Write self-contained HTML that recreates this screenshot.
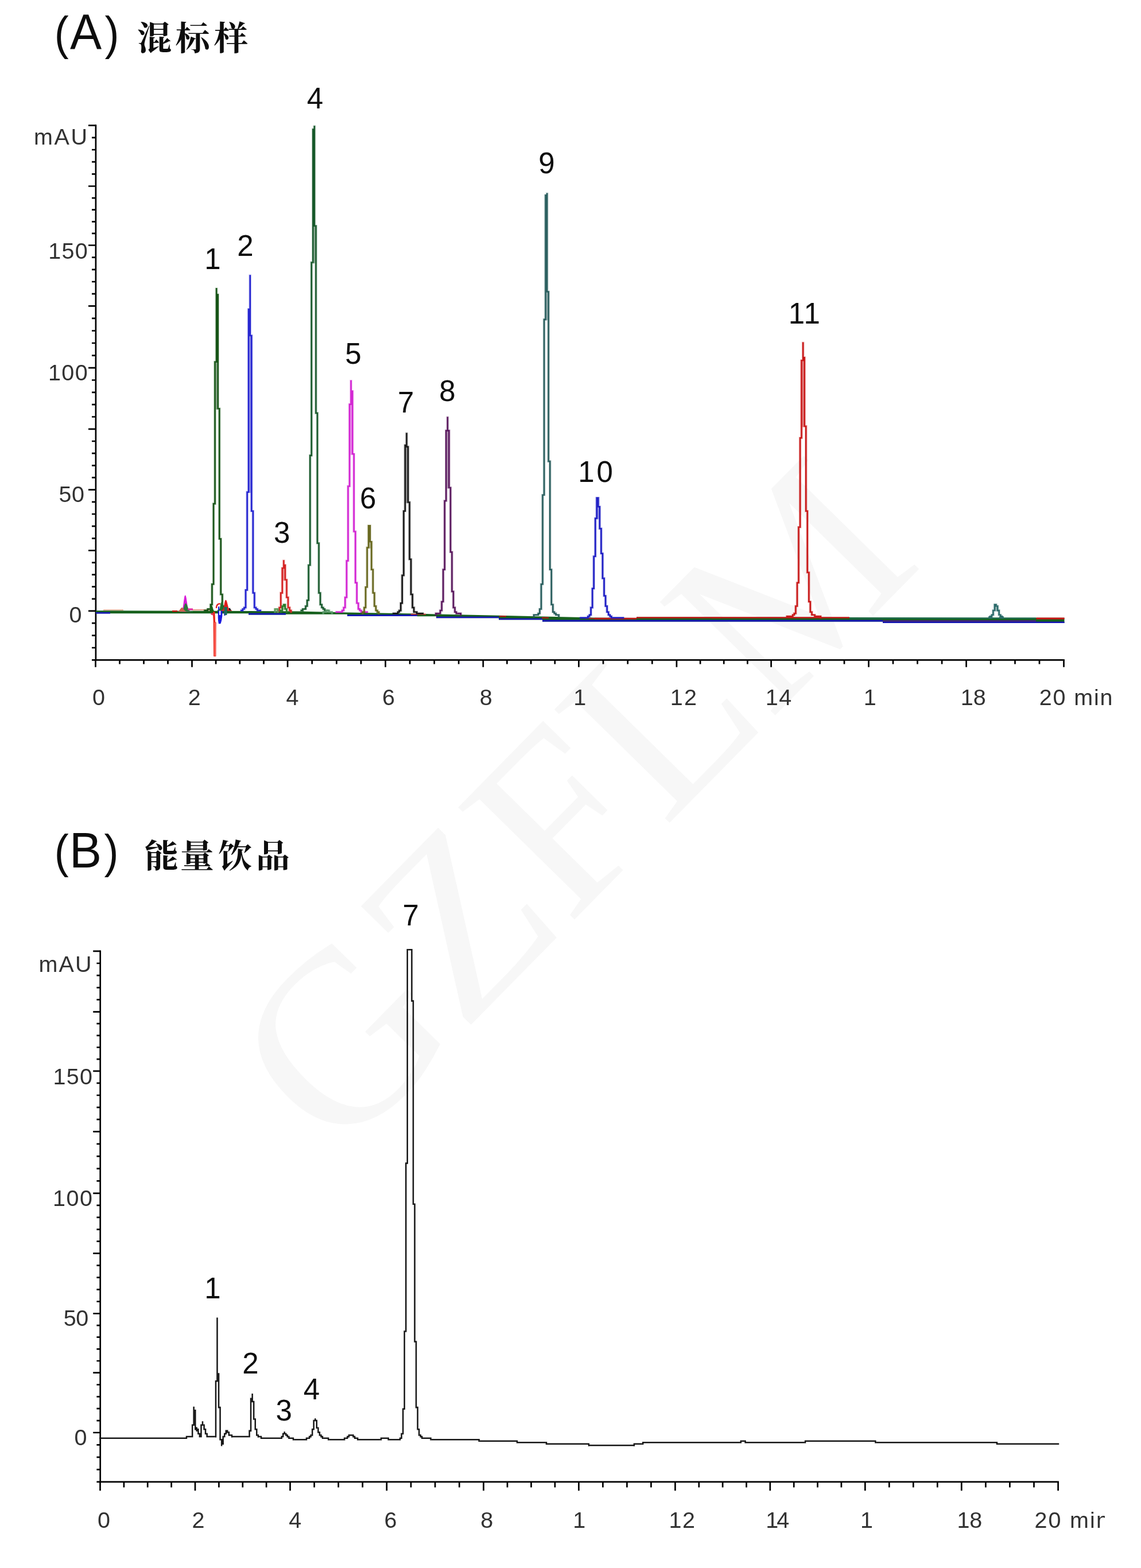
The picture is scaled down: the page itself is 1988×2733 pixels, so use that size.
<!DOCTYPE html>
<html><head><meta charset="utf-8"><title>Chromatograms</title>
<style>
html,body{margin:0;padding:0;background:#fff;}
body{width:1988px;height:2733px;overflow:hidden;font-family:"Liberation Sans",sans-serif;}
svg{display:block;font-family:"Liberation Sans",sans-serif;}
</style></head><body>
<svg width="1988" height="2733" viewBox="0 0 1988 2733">
<defs>
<filter id="bl" x="0" y="0" width="1988" height="2733" filterUnits="userSpaceOnUse"><feGaussianBlur stdDeviation="0.65"/></filter>
<filter id="bt" x="0" y="0" width="1988" height="2733" filterUnits="userSpaceOnUse"><feGaussianBlur stdDeviation="0.6"/></filter>
</defs>
<rect width="1988" height="2733" fill="#fff"/>
<g filter="url(#bl)">
<text transform="translate(998 1403) rotate(-45.5)" text-anchor="middle" font-family="'Liberation Serif', serif" font-size="430" fill="#f7f7f7" dy="142">GZFLM</text>
<g fill="#0c0c0c">
<text transform="translate(94.85 86) scale(.915 1)" font-size="82">(</text><text transform="translate(182.4 86) scale(.915 1)" font-size="82">)</text>
<text transform="translate(122.1 86) scale(1.008 1.055)" font-size="82">A</text>
<text transform="translate(94.85 1512) scale(.915 1)" font-size="82">(</text><text transform="translate(181.5 1512) scale(.915 1)" font-size="82">)</text>
<text transform="translate(121.1 1512) scale(1.024 1.053)" font-size="82">B</text>
<text transform="translate(238.80 87.00) scale(1 .959)" font-size="60.5" font-weight="bold" font-family="'Liberation Serif','Noto Serif CJK SC',serif">混</text>
<text transform="translate(305.56 87.00) scale(1 .959)" font-size="60.5" font-weight="bold" font-family="'Liberation Serif','Noto Serif CJK SC',serif">标</text>
<text transform="translate(372.27 87.00) scale(1 .959)" font-size="60.5" font-weight="bold" font-family="'Liberation Serif','Noto Serif CJK SC',serif">样</text>
<text transform="translate(251.68 1512.40) scale(1 .966)" font-size="59" font-weight="bold" font-family="'Liberation Serif','Noto Serif CJK SC',serif">能</text>
<text transform="translate(313.73 1512.40) scale(1 .966)" font-size="59" font-weight="bold" font-family="'Liberation Serif','Noto Serif CJK SC',serif">量</text>
<text transform="translate(380.18 1512.40) scale(1 .966)" font-size="59" font-weight="bold" font-family="'Liberation Serif','Noto Serif CJK SC',serif">饮</text>
<text transform="translate(446.12 1512.40) scale(1 .966)" font-size="59" font-weight="bold" font-family="'Liberation Serif','Noto Serif CJK SC',serif">品</text>
</g>
<g stroke="#000" stroke-width="2.7" fill="none">
<path d="M166.9 217.3V1151.6"/>
<path d="M154.0 218.7H166.9M160.0 239.9H166.9M160.0 261.0H166.9M160.0 282.2H166.9M160.0 303.3H166.9M154.0 324.5H166.9M160.0 345.1H166.9M160.0 365.7H166.9M160.0 386.3H166.9M160.0 406.9H166.9M154.0 427.5H166.9M160.0 448.7H166.9M160.0 469.8H166.9M160.0 491.0H166.9M160.0 512.1H166.9M154.0 533.3H166.9M160.0 554.9H166.9M160.0 576.5H166.9M160.0 598.0H166.9M160.0 619.6H166.9M154.0 641.2H166.9M160.0 662.5H166.9M160.0 683.8H166.9M160.0 705.2H166.9M160.0 726.5H166.9M154.0 747.8H166.9M160.0 769.0H166.9M160.0 790.1H166.9M160.0 811.3H166.9M160.0 832.4H166.9M154.0 853.6H166.9M160.0 874.8H166.9M160.0 896.0H166.9M160.0 917.1H166.9M160.0 938.3H166.9M154.0 959.5H166.9M160.0 980.6H166.9M160.0 1001.7H166.9M160.0 1022.7H166.9M160.0 1043.8H166.9M154.0 1064.9H166.9M160.0 1086.2H166.9M160.0 1107.6H166.9M160.0 1129.0H166.9"/>
<path d="M160.0 1150.3H1854.8"/>
<path d="M166.5 1150.3V1162.8M208.5 1150.3V1157.6M250.5 1150.3V1157.6M292.5 1150.3V1157.6M334.5 1150.3V1162.8M376.1 1150.3V1157.6M417.8 1150.3V1157.6M459.5 1150.3V1157.6M501.1 1150.3V1162.8M543.7 1150.3V1157.6M586.4 1150.3V1157.6M629.0 1150.3V1157.6M671.6 1150.3V1162.8M714.1 1150.3V1157.6M756.7 1150.3V1157.6M799.2 1150.3V1157.6M841.8 1150.3V1162.8M883.4 1150.3V1157.6M925.1 1150.3V1157.6M966.8 1150.3V1157.6M1008.4 1150.3V1162.8M1051.0 1150.3V1157.6M1093.7 1150.3V1157.6M1136.3 1150.3V1157.6M1178.9 1150.3V1162.8M1220.1 1150.3V1157.6M1261.2 1150.3V1157.6M1302.4 1150.3V1157.6M1343.6 1150.3V1162.8M1386.1 1150.3V1157.6M1428.5 1150.3V1157.6M1471.0 1150.3V1157.6M1513.5 1150.3V1162.8M1556.0 1150.3V1157.6M1598.5 1150.3V1157.6M1641.1 1150.3V1157.6M1683.6 1150.3V1162.8M1726.1 1150.3V1157.6M1768.5 1150.3V1157.6M1811.0 1150.3V1157.6M1853.5 1150.3V1162.8"/>
</g>
<g stroke="#000" stroke-width="2.7" fill="none">
<path d="M174.7 1656.5V2584.2"/>
<path d="M162.2 1657.8H174.7M168.4 1679.0H174.7M168.4 1700.1H174.7M168.4 1721.3H174.7M168.4 1742.4H174.7M162.2 1763.6H174.7M168.4 1784.2H174.7M168.4 1804.9H174.7M168.4 1825.5H174.7M168.4 1846.2H174.7M162.2 1866.8H174.7M168.4 1887.9H174.7M168.4 1909.0H174.7M168.4 1930.1H174.7M168.4 1951.2H174.7M162.2 1972.3H174.7M168.4 1993.8H174.7M168.4 2015.3H174.7M168.4 2036.9H174.7M168.4 2058.4H174.7M162.2 2079.9H174.7M168.4 2100.9H174.7M168.4 2121.8H174.7M168.4 2142.8H174.7M168.4 2163.7H174.7M162.2 2184.7H174.7M168.4 2205.7H174.7M168.4 2226.6H174.7M168.4 2247.6H174.7M168.4 2268.5H174.7M162.2 2289.5H174.7M168.4 2310.1H174.7M168.4 2330.7H174.7M168.4 2351.4H174.7M168.4 2372.0H174.7M162.2 2392.6H174.7M168.4 2413.5H174.7M168.4 2434.4H174.7M168.4 2455.2H174.7M168.4 2476.1H174.7M162.2 2497.0H174.7M168.4 2518.4H174.7M168.4 2539.9H174.7M168.4 2561.4H174.7"/>
<path d="M168.4 2582.8H1844.9"/>
<path d="M174.5 2582.8V2598.2M215.9 2582.8V2592.5M257.2 2582.8V2592.5M298.6 2582.8V2592.5M340.0 2582.8V2598.2M381.4 2582.8V2592.5M422.8 2582.8V2592.5M464.1 2582.8V2592.5M505.5 2582.8V2598.2M547.6 2582.8V2592.5M589.6 2582.8V2592.5M631.7 2582.8V2592.5M673.8 2582.8V2598.2M716.0 2582.8V2592.5M758.1 2582.8V2592.5M800.3 2582.8V2592.5M842.5 2582.8V2598.2M884.0 2582.8V2592.5M925.5 2582.8V2592.5M966.9 2582.8V2592.5M1008.4 2582.8V2598.2M1050.4 2582.8V2592.5M1092.4 2582.8V2592.5M1134.4 2582.8V2592.5M1176.4 2582.8V2598.2M1217.8 2582.8V2592.5M1259.1 2582.8V2592.5M1300.5 2582.8V2592.5M1341.8 2582.8V2598.2M1383.2 2582.8V2592.5M1424.5 2582.8V2592.5M1465.9 2582.8V2592.5M1507.3 2582.8V2598.2M1549.3 2582.8V2592.5M1591.3 2582.8V2592.5M1633.3 2582.8V2592.5M1675.3 2582.8V2598.2M1717.4 2582.8V2592.5M1759.4 2582.8V2592.5M1801.5 2582.8V2592.5M1843.6 2582.8V2598.2"/>
</g>
<g fill="#303030"><text x="58.88" y="251.80" font-size="39.5">m</text><text x="94.48" y="251.80" font-size="39.5">A</text><text x="123.52" y="251.80" font-size="39.5">U</text></g>
<g fill="#303030"><text x="84.29" y="451.00" font-size="39.5">1</text><text x="107.58" y="451.00" font-size="39.5">5</text><text x="130.87" y="451.00" font-size="39.5">0</text></g>
<g fill="#303030"><text x="83.89" y="663.20" font-size="39.5">1</text><text x="107.33" y="663.20" font-size="39.5">0</text><text x="130.77" y="663.20" font-size="39.5">0</text></g>
<g fill="#303030"><text x="102.62" y="875.20" font-size="39.5">5</text><text x="125.07" y="875.20" font-size="39.5">0</text></g>
<g fill="#303030"><text x="120.46" y="1085.20" font-size="39.5">0</text></g>
<g fill="#303030"><text x="160.96" y="1229.00" font-size="39.5">0</text></g>
<g fill="#303030"><text x="327.81" y="1229.00" font-size="39.5">2</text></g>
<g fill="#303030"><text x="498.40" y="1229.00" font-size="39.5">4</text></g>
<g fill="#303030"><text x="665.99" y="1229.00" font-size="39.5">6</text></g>
<g fill="#303030"><text x="835.78" y="1229.00" font-size="39.5">8</text></g>
<g fill="#303030"><text x="999.29" y="1229.00" font-size="39.5">1</text></g>
<g fill="#303030"><text x="1167.69" y="1229.00" font-size="39.5">1</text><text x="1192.02" y="1229.00" font-size="39.5">2</text></g>
<g fill="#303030"><text x="1333.69" y="1229.00" font-size="39.5">1</text><text x="1357.19" y="1229.00" font-size="39.5">4</text></g>
<g fill="#303030"><text x="1504.69" y="1229.00" font-size="39.5">1</text></g>
<g fill="#303030"><text x="1673.69" y="1229.00" font-size="39.5">1</text><text x="1695.75" y="1229.00" font-size="39.5">8</text></g>
<g fill="#303030"><text x="1810.71" y="1229.00" font-size="39.5">2</text><text x="1834.54" y="1229.00" font-size="39.5">0</text><text x="1871.20" y="1229.00" font-size="39.5">m</text><text x="1905.96" y="1229.00" font-size="39.5">i</text><text x="1916.60" y="1229.00" font-size="39.5">n</text></g>
<g fill="#303030"><text x="67.38" y="1693.60" font-size="39.5">m</text><text x="102.43" y="1693.60" font-size="39.5">A</text><text x="130.92" y="1693.60" font-size="39.5">U</text></g>
<g fill="#303030"><text x="92.49" y="1889.80" font-size="39.5">1</text><text x="115.78" y="1889.80" font-size="39.5">5</text><text x="139.07" y="1889.80" font-size="39.5">0</text></g>
<g fill="#303030"><text x="91.89" y="2101.80" font-size="39.5">1</text><text x="115.48" y="2101.80" font-size="39.5">0</text><text x="139.07" y="2101.80" font-size="39.5">0</text></g>
<g fill="#303030"><text x="110.72" y="2311.30" font-size="39.5">5</text><text x="132.37" y="2311.30" font-size="39.5">0</text></g>
<g fill="#303030"><text x="129.46" y="2519.40" font-size="39.5">0</text></g>
<clipPath id="clipB"><rect x="0" y="2600" width="1924.2" height="120"/></clipPath>
<g clip-path="url(#clipB)">
<g fill="#303030"><text x="170.06" y="2663.40" font-size="39.5">0</text></g>
<g fill="#303030"><text x="334.41" y="2663.40" font-size="39.5">2</text></g>
<g fill="#303030"><text x="503.30" y="2663.40" font-size="39.5">4</text></g>
<g fill="#303030"><text x="669.59" y="2663.40" font-size="39.5">6</text></g>
<g fill="#303030"><text x="837.28" y="2663.40" font-size="39.5">8</text></g>
<g fill="#303030"><text x="998.29" y="2663.40" font-size="39.5">1</text></g>
<g fill="#303030"><text x="1165.49" y="2663.40" font-size="39.5">1</text><text x="1189.02" y="2663.40" font-size="39.5">2</text></g>
<g fill="#303030"><text x="1334.29" y="2663.40" font-size="39.5">1</text><text x="1353.19" y="2663.40" font-size="39.5">4</text></g>
<g fill="#303030"><text x="1498.89" y="2663.40" font-size="39.5">1</text></g>
<g fill="#303030"><text x="1667.49" y="2663.40" font-size="39.5">1</text><text x="1689.15" y="2663.40" font-size="39.5">8</text></g>
<g fill="#303030"><text x="1802.41" y="2663.40" font-size="39.5">2</text><text x="1826.60" y="2663.40" font-size="39.5">0</text><text x="1863.98" y="2663.40" font-size="39.5">m</text><text x="1899.10" y="2663.40" font-size="39.5">i</text><text x="1910.10" y="2663.40" font-size="39.5">n</text></g>
</g>
<g fill="#0a0a0a"><text x="356.24" y="468.65" font-size="51">1</text></g>
<g fill="#0a0a0a"><text x="413.13" y="446.35" font-size="51">2</text></g>
<g fill="#0a0a0a"><text x="477.06" y="945.85" font-size="51">3</text></g>
<g fill="#0a0a0a"><text x="534.83" y="189.45" font-size="51">4</text></g>
<g fill="#0a0a0a"><text x="601.36" y="633.85" font-size="51">5</text></g>
<g fill="#0a0a0a"><text x="626.91" y="885.85" font-size="51">6</text></g>
<g fill="#0a0a0a"><text x="692.88" y="719.45" font-size="51">7</text></g>
<g fill="#0a0a0a"><text x="765.28" y="699.15" font-size="51">8</text></g>
<g fill="#0a0a0a"><text x="938.31" y="301.85" font-size="51">9</text></g>
<g fill="#0a0a0a"><text x="1007.24" y="840.35" font-size="51">1</text><text x="1039.53" y="840.35" font-size="51">0</text></g>
<g fill="#0a0a0a"><text x="1373.84" y="563.65" font-size="51">1</text><text x="1400.60" y="563.65" font-size="51">1</text></g>
<g fill="#0a0a0a"><text x="356.24" y="2263.35" font-size="51">1</text></g>
<g fill="#0a0a0a"><text x="422.23" y="2394.35" font-size="51">2</text></g>
<g fill="#0a0a0a"><text x="480.46" y="2475.85" font-size="51">3</text></g>
<g fill="#0a0a0a"><text x="528.83" y="2438.85" font-size="51">4</text></g>
<g fill="#0a0a0a"><text x="701.38" y="1613.15" font-size="51">7</text></g>
</g>
<g filter="url(#bt)">
<path d="M167.0 1064.3L433.0 1065.0L520.0 1065.6L605.0 1067.6L727.0 1069.6L760.0 1070.4L869.0 1072.8L945.0 1074.6L1036.0 1076.6L1109.0 1077.0L1109.0 1075.4L1480.0 1076.0L1854.5 1076.8L1854.5 1086.0L1538.0 1086.0L1538.0 1083.4L945.0 1083.4L945.0 1080.3L869.0 1080.3L869.0 1077.3L760.0 1077.3L760.0 1074.2L727.0 1074.2L727.0 1074.0L605.0 1074.0L605.0 1070.8L498.0 1070.8L498.0 1071.5L433.0 1071.5L433.0 1069.3L167.0 1069.3Z" fill="#17601f"/>
<path d="M167.0 1068.3H192.0" stroke="#1212b8" stroke-width="2.6" fill="none"/>
<path d="M433.0 1070.1H498.0" stroke="#1212b8" stroke-width="2.8" fill="none"/>
<path d="M605.0 1072.6H727.0" stroke="#1212b8" stroke-width="2.8" fill="none"/>
<path d="M760.0 1076.0H869.0" stroke="#1212b8" stroke-width="2.7" fill="none"/>
<path d="M869.0 1079.0H945.0" stroke="#1212b8" stroke-width="2.7" fill="none"/>
<path d="M945.0 1082.0H1538.0" stroke="#1212b8" stroke-width="2.9" fill="none"/>
<path d="M1538.0 1084.8H1854.5" stroke="#1212b8" stroke-width="2.6" fill="none"/>
<path d="M1538.0 1082.4H1805.0" stroke="#4a1a8a" stroke-width="2.4" fill="none"/>
<path d="M1036.0 1078.2H1109.0" stroke="#c01818" stroke-width="2.8" fill="none"/>
<path d="M1109.0 1076.6H1480.0" stroke="#c01818" stroke-width="2.5" fill="none"/>
<path d="M1805.5 1078.0H1854.5" stroke="#cc1414" stroke-width="3.0" fill="none"/>
<path d="M1480.0 1077.6H1805.0" stroke="#1f6a50" stroke-width="2.4" fill="none"/>
<path d="M1020.0 1077.8H1036.0" stroke="#c01818" stroke-width="1.6" fill="none"/>
<path d="M870.0 1074.2H882.0" stroke="#c01818" stroke-width="2.0" fill="none"/>
<path d="M944.0 1076.8H956.0" stroke="#c01818" stroke-width="2.0" fill="none"/>
<path d="M716.0 1070.6H742.0" stroke="#d03030" stroke-width="1.8" fill="none"/>
<path d="M1240.0 1077.0H1256.0" stroke="#c01818" stroke-width="1.6" fill="none"/>
<path d="M300.0 1065.2H309.0" stroke="#c81414" stroke-width="2.4" fill="none"/>
<path d="M335.0 1063.0H366.0" stroke="#e8a090" stroke-width="2.2" fill="none"/>
<path d="M180.0 1063.2H215.0" stroke="#d8a080" stroke-width="1.6" fill="none"/>
<path d="M375.9 632.1h2.5v81.6h-2.5z" fill="#145214" opacity="0.38"/>
<path d="M354.4 1062.2h7.3v3.7h-7.3zM359.5 1059.7h4.7v6.3h-4.7zM362.0 1059.7h4.7v3.7h-4.7zM364.6 1052.0h4.7v11.4h-4.7zM367.1 1016.3h4.7v39.4h-4.7zM369.7 876.2h4.7v143.9h-4.7zM372.2 628.9h4.7v251.0h-4.7zM374.8 501.5h4.7v131.2h-4.7zM377.3 511.7h4.7v202.5h-4.7zM379.9 710.5h4.7v230.6h-4.7zM382.4 937.3h4.7v100.6h-4.7zM385.0 1034.2h4.7v24.1h-4.7zM387.5 1054.6h4.7v8.8h-4.7zM390.1 1059.7h4.7v3.7h-4.7zM392.6 1059.7h4.7v6.3h-4.7zM395.1 1062.2h4.7v3.7h-4.7z" fill="#145214" opacity="0.3"/>
<path d="M355.5 1062.8h5.1v2.5h-5.1zM360.6 1060.3h2.5v5.1h-2.5zM363.1 1060.3h2.5v2.5h-2.5zM365.7 1052.6h2.5v10.2h-2.5zM368.2 1016.9h2.5v38.2h-2.5zM370.8 876.8h2.5v142.7h-2.5zM373.3 629.5h2.5v249.8h-2.5zM375.9 502.1h2.5v130.0h-2.5zM378.4 512.3h2.5v201.3h-2.5zM381.0 711.1h2.5v229.4h-2.5zM383.5 937.9h2.5v99.4h-2.5zM386.1 1034.8h2.5v22.9h-2.5zM388.6 1055.2h2.5v7.6h-2.5zM391.2 1060.3h2.5v2.5h-2.5zM393.7 1060.3h2.5v5.1h-2.5zM396.2 1062.8h2.5v2.5h-2.5z" fill="#145214"/>
<path d="M434.5 586.2h2.5v272.7h-2.5z" fill="#2424d0" opacity="0.38"/>
<path d="M418.1 1062.2h4.7v3.7h-4.7zM420.6 1059.7h4.7v6.3h-4.7zM423.2 1057.1h4.7v6.3h-4.7zM425.7 1026.5h4.7v34.3h-4.7zM428.3 855.8h4.7v174.5h-4.7zM430.8 537.2h4.7v322.3h-4.7zM433.4 478.6h4.7v108.2h-4.7zM435.9 583.1h4.7v309.6h-4.7zM438.5 888.9h4.7v146.5h-4.7zM441.0 1031.6h4.7v29.2h-4.7zM443.6 1057.1h4.7v6.3h-4.7zM446.1 1059.7h4.7v6.3h-4.7zM448.7 1062.2h7.3v3.7h-7.3z" fill="#2424d0" opacity="0.3"/>
<path d="M419.2 1062.8h2.5v2.5h-2.5zM421.7 1060.3h2.5v5.1h-2.5zM424.3 1057.7h2.5v5.1h-2.5zM426.8 1027.1h2.5v33.1h-2.5zM429.4 856.4h2.5v173.3h-2.5zM431.9 537.8h2.5v321.1h-2.5zM434.5 479.2h2.5v107.0h-2.5zM437.0 583.7h2.5v308.4h-2.5zM439.6 889.5h2.5v145.3h-2.5zM442.1 1032.2h2.5v28.0h-2.5zM444.7 1057.7h2.5v5.1h-2.5zM447.2 1060.3h2.5v5.1h-2.5zM449.8 1062.8h5.1v2.5h-5.1z" fill="#2424d0"/>
<path d="M493.1 991.4h2.5v20.4h-2.5z" fill="#d42020" opacity="0.38"/>
<path d="M481.8 1062.2h4.7v6.3h-4.7zM484.4 1057.1h4.7v8.8h-4.7zM486.9 1031.6h4.7v29.2h-4.7zM489.5 988.3h4.7v47.1h-4.7zM492.0 975.6h4.7v16.5h-4.7zM494.5 983.2h4.7v29.2h-4.7zM497.1 1008.7h4.7v34.3h-4.7zM499.6 1039.3h4.7v21.6h-4.7zM502.2 1057.1h4.7v8.8h-4.7zM504.7 1062.2h4.7v6.3h-4.7z" fill="#d42020" opacity="0.3"/>
<path d="M482.9 1062.8h2.5v5.1h-2.5zM485.5 1057.7h2.5v7.6h-2.5zM488.0 1032.2h2.5v28.0h-2.5zM490.6 988.9h2.5v45.9h-2.5zM493.1 976.2h2.5v15.3h-2.5zM495.6 983.8h2.5v28.0h-2.5zM498.2 1009.3h2.5v33.1h-2.5zM500.7 1039.9h2.5v20.4h-2.5zM503.3 1057.7h2.5v7.6h-2.5zM505.8 1062.8h2.5v5.1h-2.5z" fill="#d42020"/>
<path d="M546.6 395.0h2.5v63.7h-2.5z" fill="#18582c" opacity="0.38"/>
<path d="M522.6 1062.2h4.7v3.7h-4.7zM525.1 1059.7h4.7v6.3h-4.7zM527.7 1059.7h4.7v3.7h-4.7zM530.2 1054.6h4.7v8.8h-4.7zM532.8 1044.4h4.7v13.9h-4.7zM535.3 983.2h4.7v64.9h-4.7zM537.9 792.0h4.7v194.9h-4.7zM540.4 455.6h4.7v340.2h-4.7zM543.0 223.7h4.7v235.7h-4.7zM545.5 218.6h4.7v177.1h-4.7zM548.1 391.9h4.7v330.0h-4.7zM550.6 718.1h4.7v230.6h-4.7zM553.2 945.0h4.7v90.4h-4.7zM555.7 1031.6h4.7v24.1h-4.7zM558.3 1052.0h4.7v8.8h-4.7zM560.8 1057.1h4.7v6.3h-4.7zM563.4 1059.7h4.7v6.3h-4.7zM565.9 1062.2h7.3v3.7h-7.3z" fill="#18582c" opacity="0.3"/>
<path d="M523.7 1062.8h2.5v2.5h-2.5zM526.2 1060.3h2.5v5.1h-2.5zM528.8 1060.3h2.5v2.5h-2.5zM531.3 1055.2h2.5v7.6h-2.5zM533.9 1045.0h2.5v12.7h-2.5zM536.4 983.8h2.5v63.7h-2.5zM539.0 792.6h2.5v193.7h-2.5zM541.5 456.2h2.5v339.0h-2.5zM544.1 224.3h2.5v234.5h-2.5zM546.6 219.2h2.5v175.9h-2.5zM549.2 392.5h2.5v328.8h-2.5zM551.7 718.7h2.5v229.4h-2.5zM554.3 945.6h2.5v89.2h-2.5zM556.8 1032.2h2.5v22.9h-2.5zM559.4 1052.6h2.5v7.6h-2.5zM561.9 1057.7h2.5v5.1h-2.5zM564.5 1060.3h2.5v5.1h-2.5zM567.0 1062.8h5.1v2.5h-5.1z" fill="#18582c"/>
<path d="M610.3 706.0h2.5v86.7h-2.5z" fill="#d222d2" opacity="0.38"/>
<path d="M583.8 1064.8h12.4v3.7h-12.4zM593.9 1062.2h4.7v6.3h-4.7zM596.5 1057.1h4.7v8.8h-4.7zM599.0 1039.3h4.7v21.6h-4.7zM601.6 975.6h4.7v67.5h-4.7zM604.1 845.6h4.7v133.7h-4.7zM606.7 702.8h4.7v146.5h-4.7zM609.2 662.1h4.7v44.5h-4.7zM611.8 679.9h4.7v113.3h-4.7zM614.3 789.5h4.7v138.8h-4.7zM616.9 924.6h4.7v93.0h-4.7zM619.4 1013.8h4.7v39.4h-4.7zM622.0 1049.5h4.7v13.9h-4.7zM624.5 1059.7h4.7v6.3h-4.7zM627.1 1062.2h4.7v6.3h-4.7zM629.6 1064.8h12.4v3.7h-12.4z" fill="#d222d2" opacity="0.3"/>
<path d="M584.9 1065.4h10.2v2.5h-10.2zM595.0 1062.8h2.5v5.1h-2.5zM597.6 1057.7h2.5v7.6h-2.5zM600.1 1039.9h2.5v20.4h-2.5zM602.7 976.2h2.5v66.3h-2.5zM605.2 846.2h2.5v132.5h-2.5zM607.8 703.4h2.5v145.3h-2.5zM610.3 662.7h2.5v43.3h-2.5zM612.9 680.5h2.5v112.1h-2.5zM615.4 790.1h2.5v137.6h-2.5zM618.0 925.2h2.5v91.8h-2.5zM620.5 1014.4h2.5v38.2h-2.5zM623.1 1050.1h2.5v12.7h-2.5zM625.6 1060.3h2.5v5.1h-2.5zM628.2 1062.8h2.5v5.1h-2.5zM630.7 1065.4h10.2v2.5h-10.2z" fill="#d222d2"/>
<path d="M643.5 945.6h2.5v10.2h-2.5z" fill="#66661c" opacity="0.38"/>
<path d="M629.6 1064.8h4.7v6.3h-4.7zM632.2 1057.1h4.7v11.4h-4.7zM634.7 1021.4h4.7v39.4h-4.7zM637.3 952.6h4.7v72.6h-4.7zM639.8 914.4h4.7v42.0h-4.7zM642.4 914.4h4.7v31.8h-4.7zM644.9 942.4h4.7v52.2h-4.7zM647.5 990.8h4.7v44.5h-4.7zM650.0 1031.6h4.7v26.7h-4.7zM652.6 1054.6h4.7v11.4h-4.7zM655.1 1062.2h4.7v6.3h-4.7zM657.7 1064.8h4.7v6.3h-4.7z" fill="#66661c" opacity="0.3"/>
<path d="M630.7 1065.4h2.5v5.1h-2.5zM633.3 1057.7h2.5v10.2h-2.5zM635.8 1022.0h2.5v38.2h-2.5zM638.4 953.2h2.5v71.4h-2.5zM640.9 915.0h2.5v40.8h-2.5zM643.5 915.0h2.5v30.6h-2.5zM646.0 943.0h2.5v51.0h-2.5zM648.6 991.4h2.5v43.3h-2.5zM651.1 1032.2h2.5v25.5h-2.5zM653.7 1055.2h2.5v10.2h-2.5zM656.2 1062.8h2.5v5.1h-2.5zM658.8 1065.4h2.5v5.1h-2.5z" fill="#66661c"/>
<path d="M707.2 779.9h2.5v96.9h-2.5z" fill="#161616" opacity="0.38"/>
<path d="M683.2 1067.3h9.8v3.7h-9.8zM690.8 1064.8h4.7v6.3h-4.7zM693.3 1062.2h4.7v6.3h-4.7zM695.9 1049.5h4.7v16.5h-4.7zM698.4 1001.0h4.7v52.2h-4.7zM701.0 888.9h4.7v115.9h-4.7zM703.5 774.2h4.7v118.4h-4.7zM706.1 753.8h4.7v26.7h-4.7zM708.6 776.8h4.7v100.6h-4.7zM711.2 873.6h4.7v103.1h-4.7zM713.7 973.0h4.7v64.9h-4.7zM716.3 1034.2h4.7v26.7h-4.7zM718.8 1057.1h4.7v11.4h-4.7zM721.4 1064.8h4.7v3.7h-4.7zM723.9 1064.8h4.7v6.3h-4.7zM726.5 1067.3h12.4v3.7h-12.4z" fill="#161616" opacity="0.3"/>
<path d="M684.3 1067.9h7.6v2.5h-7.6zM691.9 1065.4h2.5v5.1h-2.5zM694.4 1062.8h2.5v5.1h-2.5zM697.0 1050.1h2.5v15.3h-2.5zM699.5 1001.6h2.5v51.0h-2.5zM702.1 889.5h2.5v114.7h-2.5zM704.6 774.8h2.5v117.2h-2.5zM707.2 754.4h2.5v25.5h-2.5zM709.7 777.4h2.5v99.4h-2.5zM712.3 874.2h2.5v101.9h-2.5zM714.8 973.6h2.5v63.7h-2.5zM717.4 1034.8h2.5v25.5h-2.5zM719.9 1057.7h2.5v10.2h-2.5zM722.5 1065.4h2.5v2.5h-2.5zM725.0 1065.4h2.5v5.1h-2.5zM727.6 1067.9h10.2v2.5h-10.2z" fill="#161616"/>
<path d="M778.6 751.9h2.5v99.4h-2.5z" fill="#58185c" opacity="0.38"/>
<path d="M757.1 1067.3h4.7v6.3h-4.7zM759.6 1067.3h7.3v3.7h-7.3zM764.7 1062.2h4.7v8.8h-4.7zM767.3 1046.9h4.7v19.0h-4.7zM769.8 990.8h4.7v59.8h-4.7zM772.4 871.1h4.7v123.5h-4.7zM774.9 748.7h4.7v126.1h-4.7zM777.5 725.8h4.7v26.7h-4.7zM780.0 748.7h4.7v103.1h-4.7zM782.6 848.1h4.7v115.9h-4.7zM785.1 960.3h4.7v72.6h-4.7zM787.6 1029.1h4.7v31.8h-4.7zM790.2 1057.1h4.7v11.4h-4.7zM792.7 1064.8h4.7v6.3h-4.7zM795.3 1067.3h7.3v3.7h-7.3zM800.4 1067.3h4.7v6.3h-4.7z" fill="#58185c" opacity="0.3"/>
<path d="M758.2 1067.9h2.5v5.1h-2.5zM760.7 1067.9h5.1v2.5h-5.1zM765.8 1062.8h2.5v7.6h-2.5zM768.4 1047.5h2.5v17.8h-2.5zM770.9 991.4h2.5v58.6h-2.5zM773.5 871.7h2.5v122.3h-2.5zM776.0 749.3h2.5v124.9h-2.5zM778.6 726.4h2.5v25.5h-2.5zM781.1 749.3h2.5v101.9h-2.5zM783.7 848.7h2.5v114.7h-2.5zM786.2 960.9h2.5v71.4h-2.5zM788.7 1029.7h2.5v30.6h-2.5zM791.3 1057.7h2.5v10.2h-2.5zM793.8 1065.4h2.5v5.1h-2.5zM796.4 1067.9h5.1v2.5h-5.1zM801.5 1067.9h2.5v5.1h-2.5z" fill="#58185c"/>
<path d="M951.9 509.7h2.5v48.4h-2.5z" fill="#285c5c" opacity="0.38"/>
<path d="M927.8 1069.9h4.7v6.3h-4.7zM930.4 1069.9h7.3v3.7h-7.3zM935.5 1067.3h4.7v6.3h-4.7zM938.0 1059.7h4.7v11.4h-4.7zM940.6 1016.3h4.7v47.1h-4.7zM943.1 860.9h4.7v159.2h-4.7zM945.7 555.0h4.7v309.6h-4.7zM948.2 338.4h4.7v220.4h-4.7zM950.8 335.8h4.7v174.5h-4.7zM953.3 506.6h4.7v299.4h-4.7zM955.9 802.2h4.7v192.4h-4.7zM958.4 990.8h4.7v64.9h-4.7zM961.0 1052.0h4.7v16.5h-4.7zM963.5 1064.8h4.7v6.3h-4.7zM966.1 1067.3h4.7v6.3h-4.7zM968.6 1069.9h4.7v3.7h-4.7zM971.2 1069.9h4.7v6.3h-4.7z" fill="#285c5c" opacity="0.3"/>
<path d="M928.9 1070.5h2.5v5.1h-2.5zM931.5 1070.5h5.1v2.5h-5.1zM936.6 1067.9h2.5v5.1h-2.5zM939.1 1060.3h2.5v10.2h-2.5zM941.7 1016.9h2.5v45.9h-2.5zM944.2 861.5h2.5v158.0h-2.5zM946.8 555.6h2.5v308.4h-2.5zM949.3 339.0h2.5v219.2h-2.5zM951.9 336.4h2.5v173.3h-2.5zM954.4 507.2h2.5v298.2h-2.5zM957.0 802.8h2.5v191.2h-2.5zM959.5 991.4h2.5v63.7h-2.5zM962.1 1052.6h2.5v15.3h-2.5zM964.6 1065.4h2.5v5.1h-2.5zM967.2 1067.9h2.5v5.1h-2.5zM969.7 1070.5h2.5v2.5h-2.5zM972.3 1070.5h2.5v5.1h-2.5z" fill="#285c5c"/>
<path d="M1041.1 884.4h2.5v20.4h-2.5z" fill="#1c1cc4" opacity="0.38"/>
<path d="M1009.4 1075.0h14.9v3.7h-14.9zM1022.1 1072.4h4.7v6.3h-4.7zM1024.7 1069.9h4.7v6.3h-4.7zM1027.2 1057.1h4.7v16.5h-4.7zM1029.8 1024.0h4.7v36.9h-4.7zM1032.3 967.9h4.7v59.8h-4.7zM1034.9 901.6h4.7v70.0h-4.7zM1037.4 866.0h4.7v39.4h-4.7zM1040.0 866.0h4.7v19.0h-4.7zM1042.5 881.3h4.7v42.0h-4.7zM1045.1 919.5h4.7v47.1h-4.7zM1047.6 962.8h4.7v47.1h-4.7zM1050.2 1006.1h4.7v34.3h-4.7zM1052.7 1036.7h4.7v21.6h-4.7zM1055.3 1054.6h4.7v13.9h-4.7zM1057.8 1064.8h4.7v8.8h-4.7zM1060.4 1069.9h4.7v6.3h-4.7zM1062.9 1072.4h4.7v6.3h-4.7zM1065.5 1075.0h22.6v3.7h-22.6z" fill="#1c1cc4" opacity="0.3"/>
<path d="M1010.5 1075.6h12.7v2.5h-12.7zM1023.2 1073.0h2.5v5.1h-2.5zM1025.8 1070.5h2.5v5.1h-2.5zM1028.3 1057.7h2.5v15.3h-2.5zM1030.9 1024.6h2.5v35.7h-2.5zM1033.4 968.5h2.5v58.6h-2.5zM1036.0 902.2h2.5v68.8h-2.5zM1038.5 866.6h2.5v38.2h-2.5zM1041.1 866.6h2.5v17.8h-2.5zM1043.6 881.9h2.5v40.8h-2.5zM1046.2 920.1h2.5v45.9h-2.5zM1048.7 963.4h2.5v45.9h-2.5zM1051.3 1006.7h2.5v33.1h-2.5zM1053.8 1037.3h2.5v20.4h-2.5zM1056.4 1055.2h2.5v12.7h-2.5zM1058.9 1065.4h2.5v7.6h-2.5zM1061.5 1070.5h2.5v5.1h-2.5zM1064.0 1073.0h2.5v5.1h-2.5zM1066.6 1075.6h20.4v2.5h-20.4z" fill="#1c1cc4"/>
<path d="M1397.9 629.5h2.5v114.7h-2.5z" fill="#c81818" opacity="0.38"/>
<path d="M1368.8 1072.4h12.4v3.7h-12.4zM1378.9 1069.9h4.7v6.3h-4.7zM1381.5 1067.3h4.7v6.3h-4.7zM1384.0 1054.6h4.7v16.5h-4.7zM1386.6 1013.8h4.7v44.5h-4.7zM1389.1 916.9h4.7v100.6h-4.7zM1391.7 761.5h4.7v159.2h-4.7zM1394.2 626.4h4.7v138.8h-4.7zM1396.8 595.8h4.7v34.3h-4.7zM1399.3 621.3h4.7v123.5h-4.7zM1401.9 741.1h4.7v151.6h-4.7zM1404.4 888.9h4.7v110.8h-4.7zM1407.0 995.9h4.7v54.7h-4.7zM1409.5 1046.9h4.7v21.6h-4.7zM1412.1 1064.8h4.7v8.8h-4.7zM1414.6 1069.9h4.7v3.7h-4.7zM1417.2 1069.9h4.7v6.3h-4.7zM1419.7 1072.4h9.8v3.7h-9.8zM1427.4 1072.4h4.7v6.3h-4.7z" fill="#c81818" opacity="0.3"/>
<path d="M1369.9 1073.0h10.2v2.5h-10.2zM1380.0 1070.5h2.5v5.1h-2.5zM1382.6 1067.9h2.5v5.1h-2.5zM1385.1 1055.2h2.5v15.3h-2.5zM1387.7 1014.4h2.5v43.3h-2.5zM1390.2 917.5h2.5v99.4h-2.5zM1392.8 762.1h2.5v158.0h-2.5zM1395.3 627.0h2.5v137.6h-2.5zM1397.9 596.4h2.5v33.1h-2.5zM1400.4 621.9h2.5v122.3h-2.5zM1403.0 741.7h2.5v150.4h-2.5zM1405.5 889.5h2.5v109.6h-2.5zM1408.1 996.5h2.5v53.5h-2.5zM1410.6 1047.5h2.5v20.4h-2.5zM1413.2 1065.4h2.5v7.6h-2.5zM1415.7 1070.5h2.5v2.5h-2.5zM1418.3 1070.5h2.5v5.1h-2.5zM1420.8 1073.0h7.6v2.5h-7.6zM1428.5 1073.0h2.5v5.1h-2.5z" fill="#c81818"/>
<path d="M1734.3 1057.7h2.5v7.6h-2.5z" fill="#2c6a6a" opacity="0.38"/>
<path d="M1723.0 1072.4h4.7v6.3h-4.7zM1725.6 1069.9h4.7v6.3h-4.7zM1728.1 1062.2h4.7v11.4h-4.7zM1730.7 1052.0h4.7v13.9h-4.7zM1733.2 1052.0h4.7v6.3h-4.7zM1735.8 1054.6h4.7v11.4h-4.7zM1738.3 1062.2h4.7v11.4h-4.7zM1740.9 1069.9h4.7v6.3h-4.7zM1743.4 1072.4h4.7v6.3h-4.7z" fill="#2c6a6a" opacity="0.3"/>
<path d="M1724.1 1073.0h2.5v5.1h-2.5zM1726.7 1070.5h2.5v5.1h-2.5zM1729.2 1062.8h2.5v10.2h-2.5zM1731.8 1052.6h2.5v12.7h-2.5zM1734.3 1052.6h2.5v5.1h-2.5zM1736.9 1055.2h2.5v10.2h-2.5zM1739.4 1062.8h2.5v10.2h-2.5zM1742.0 1070.5h2.5v5.1h-2.5zM1744.5 1073.0h2.5v5.1h-2.5z" fill="#2c6a6a"/>
<path d="M1722.0 1075.4H1729.0" stroke="#2c6a6a" stroke-width="2.2" fill="none"/>
<path d="M1741.0 1075.4H1749.0" stroke="#2c6a6a" stroke-width="2.2" fill="none"/>
<path d="M493.1 1057.7h2.5v5.1h-2.5z" fill="#2a7a2a" opacity="0.38"/>
<path d="M486.9 1062.2h4.7v6.3h-4.7zM489.5 1054.6h4.7v11.4h-4.7zM492.0 1052.0h4.7v6.3h-4.7zM494.5 1052.0h4.7v11.4h-4.7zM497.1 1059.7h4.7v8.8h-4.7z" fill="#2a7a2a" opacity="0.3"/>
<path d="M488.0 1062.8h2.5v5.1h-2.5zM490.6 1055.2h2.5v10.2h-2.5zM493.1 1052.6h2.5v5.1h-2.5zM495.6 1052.6h2.5v10.2h-2.5zM498.2 1060.3h2.5v7.6h-2.5z" fill="#2a7a2a"/>
<path d="M480.4 1062.8h2.5v5.1h-2.5z" fill="#5a9a5a" opacity="0.38"/>
<path d="M476.7 1059.7h4.7v8.8h-4.7zM479.3 1059.7h4.7v3.7h-4.7zM481.8 1059.7h4.7v8.8h-4.7z" fill="#5a9a5a" opacity="0.3"/>
<path d="M477.8 1060.3h2.5v7.6h-2.5zM480.4 1060.3h2.5v2.5h-2.5zM482.9 1060.3h2.5v7.6h-2.5z" fill="#5a9a5a"/>
<path d="M569.6 1065.4h2.5v2.5h-2.5z" fill="#5a9a6a" opacity="0.38"/>
<path d="M560.8 1064.8h4.7v6.3h-4.7zM563.4 1064.8h4.7v3.7h-4.7zM565.9 1062.2h4.7v6.3h-4.7zM568.5 1062.2h4.7v3.7h-4.7zM571.0 1062.2h4.7v6.3h-4.7zM573.6 1064.8h4.7v3.7h-4.7zM576.1 1064.8h4.7v6.3h-4.7z" fill="#5a9a6a" opacity="0.3"/>
<path d="M561.9 1065.4h2.5v5.1h-2.5zM564.5 1065.4h2.5v2.5h-2.5zM567.0 1062.8h2.5v5.1h-2.5zM569.6 1062.8h2.5v2.5h-2.5zM572.1 1062.8h2.5v5.1h-2.5zM574.7 1065.4h2.5v2.5h-2.5zM577.2 1065.4h2.5v5.1h-2.5z" fill="#5a9a6a"/>
<path d="M313.5 1066.0L314.0 1066.0L314.5 1066.0L315.0 1065.9L315.5 1065.9L316.0 1065.7L316.5 1065.5L317.0 1065.1L317.5 1064.4L318.0 1063.3L318.5 1061.7L319.0 1059.4L319.5 1056.6L320.0 1053.2L320.5 1049.4L321.0 1045.7L321.5 1042.3L322.0 1039.7L322.5 1038.4L323.0 1038.4L323.5 1039.6L324.0 1041.8L324.5 1044.8L325.0 1048.2L325.5 1051.6L326.0 1054.9L326.5 1057.9L327.0 1060.2L327.5 1062.1L328.0 1063.5L328.5 1064.4L329.0 1065.1L329.5 1065.5L330.0 1065.7L330.5 1065.9L331.0 1065.9L331.5 1066.0L332.0 1066.0L332.5 1066.0Z" fill="#d81ed8" stroke="#d81ed8" stroke-width="1.2"/>
<path d="M313.4 1066.0L313.9 1066.0L314.4 1066.0L314.9 1066.0L315.4 1066.0L315.9 1065.9L316.4 1065.8L316.9 1065.7L317.4 1065.4L317.9 1065.1L318.4 1064.5L318.9 1063.7L319.4 1062.7L319.9 1061.4L320.4 1059.9L320.9 1058.1L321.4 1056.4L321.9 1054.7L322.4 1053.3L322.9 1052.4L323.4 1052.0L323.9 1052.1L324.4 1052.6L324.9 1053.5L325.4 1054.6L325.9 1055.9L326.4 1057.3L326.9 1058.7L327.4 1060.0L327.9 1061.3L328.4 1062.4L328.9 1063.3L329.4 1064.0L329.9 1064.6L330.4 1065.0L330.9 1065.3L331.4 1065.6L331.9 1065.7L332.4 1065.8L332.9 1065.9L333.4 1065.9L333.9 1066.0L334.4 1066.0L334.9 1066.0L335.4 1066.0L335.9 1066.0Z" fill="#2a7a3a" stroke="#2a7a3a" stroke-width="1"/>
<path d="M304.4 1066.0L304.9 1066.0L305.4 1066.0L305.9 1066.0L306.4 1066.0L306.9 1066.0L307.4 1066.0L307.9 1065.9L308.4 1065.9L308.9 1065.8L309.4 1065.7L309.9 1065.6L310.4 1065.4L310.9 1065.1L311.4 1064.8L311.9 1064.3L312.4 1063.8L312.9 1063.2L313.4 1062.6L313.9 1061.9L314.4 1061.2L314.9 1060.5L315.4 1059.9L315.9 1059.5L316.4 1059.1L316.9 1059.0L317.4 1059.1L317.9 1059.3L318.4 1059.7L318.9 1060.3L319.4 1060.9L319.9 1061.6L320.4 1062.3L320.9 1063.0L321.4 1063.6L321.9 1064.2L322.4 1064.6L322.9 1065.0L323.4 1065.3L323.9 1065.5L324.4 1065.7L324.9 1065.8L325.4 1065.9L325.9 1065.9L326.4 1065.9L326.9 1066.0L327.4 1066.0L327.9 1066.0L328.4 1066.0L328.9 1066.0L329.4 1066.0Z" fill="#d06050"/>
<path d="M327.0 1062.0H336.0" stroke="#e020a0" stroke-width="3" fill="none"/>
<path d="M361.9 1066.0L362.4 1066.0L362.9 1066.0L363.4 1065.9L363.9 1065.9L364.4 1065.7L364.9 1065.3L365.4 1064.6L365.9 1063.5L366.4 1062.0L366.9 1060.1L367.4 1058.1L367.9 1056.5L368.4 1055.6L368.9 1055.6L369.4 1056.4L369.9 1057.8L370.4 1059.6L370.9 1061.3L371.4 1062.8L371.9 1064.0L372.4 1064.8L372.9 1065.4L373.4 1065.7L373.9 1065.9L374.4 1065.9L374.9 1066.0L375.4 1066.0L375.9 1066.0Z" fill="#146414" stroke="#146414" stroke-width="1"/>
<path d="M371.5 1067L372.3 1084L372.8 1143.5L375.8 1143.5L376 1085L374.5 1084.5L373.8 1067Z" fill="#e8281e" stroke="#e8281e" stroke-width="1.3" stroke-linejoin="round"/>
<path d="M374.6 1085V1143.5" stroke="#ff6a60" stroke-width="2.2" fill="none"/>
<path d="M367.5 1069.5L372 1071.5" stroke="#e0305a" stroke-width="3" fill="none"/>
<path d="M377 1060C377 1053 381 1052 384 1052.5" stroke="#e02020" stroke-width="2.4" fill="none"/>
<path d="M380.8 1058C380.2 1070 380 1080 381.5 1086.5L384 1086.5C386.5 1080 387.2 1066 386.8 1057Z" fill="#1a1ae0" stroke="#1a1ae0" stroke-width="1.4" stroke-linejoin="round"/>
<path d="M383.2 1056V1072" stroke="#fff" stroke-width="2.2"/>
<path d="M391.5 1061V1073" stroke="#2a2ad8" stroke-width="2.4"/>
<path d="M378.6 1064.0L379.1 1064.0L379.6 1064.0L380.1 1063.9L380.6 1063.9L381.1 1063.7L381.6 1063.4L382.1 1062.9L382.6 1061.9L383.1 1060.6L383.6 1058.7L384.1 1056.5L384.6 1054.0L385.1 1051.8L385.6 1050.2L386.1 1049.5L386.6 1049.7L387.1 1050.6L387.6 1051.9L388.1 1053.5L388.6 1055.4L389.1 1057.2L389.6 1058.8L390.1 1060.2L390.6 1061.4L391.1 1062.3L391.6 1062.9L392.1 1063.3L392.6 1063.6L393.1 1063.8L393.6 1063.9L394.1 1063.9L394.6 1064.0L395.1 1064.0L395.6 1064.0L396.1 1064.0Z" fill="#1e6e2e" stroke="#1e6e2e" stroke-width="1"/>
<path d="M385.3 1064.0L385.8 1064.0L386.3 1064.0L386.8 1063.9L387.3 1063.9L387.8 1063.7L388.3 1063.4L388.8 1062.9L389.3 1062.0L389.8 1060.7L390.3 1058.9L390.8 1056.5L391.3 1053.8L391.8 1051.1L392.3 1048.7L392.8 1047.0L393.3 1046.5L393.8 1046.8L394.3 1047.8L394.8 1049.2L395.3 1051.1L395.8 1053.1L396.3 1055.1L396.8 1057.0L397.3 1058.7L397.8 1060.1L398.3 1061.3L398.8 1062.2L399.3 1062.8L399.8 1063.2L400.3 1063.5L400.8 1063.7L401.3 1063.8L401.8 1063.9L402.3 1064.0L402.8 1064.0L403.3 1064.0L403.8 1064.0Z" fill="#e01c1c" stroke="#e01c1c" stroke-width="1.4"/>
<path d="M390.5 1058L391 1072L395.5 1072L396 1058Z" fill="#1c6a5a"/>
<path d="M399.5 1060L401.5 1064" stroke="#111" stroke-width="2.4"/>
<path d="M173.3 2505.4h150.4v2.5h-150.4zM323.7 2502.8h2.5v5.1h-2.5zM326.2 2502.8h7.6v2.5h-7.6zM333.9 2482.4h2.5v22.9h-2.5zM336.4 2451.8h2.5v33.1h-2.5zM339.0 2456.9h2.5v35.7h-2.5zM341.5 2487.5h2.5v7.6h-2.5zM344.1 2490.1h2.5v10.2h-2.5zM346.6 2497.7h2.5v7.6h-2.5zM349.2 2482.4h2.5v22.9h-2.5zM351.7 2477.3h2.5v7.6h-2.5zM354.3 2482.4h2.5v10.2h-2.5zM356.8 2490.1h2.5v10.2h-2.5zM359.4 2497.7h2.5v7.6h-2.5zM361.9 2502.8h12.7v2.5h-12.7zM374.7 2406.0h2.5v99.4h-2.5zM377.2 2296.4h2.5v112.1h-2.5zM379.8 2393.2h2.5v61.2h-2.5zM382.3 2451.8h2.5v58.6h-2.5zM384.9 2507.9h2.5v12.7h-2.5zM387.4 2502.8h2.5v15.3h-2.5zM390.0 2497.7h2.5v7.6h-2.5zM392.5 2492.6h2.5v7.6h-2.5zM395.0 2492.6h2.5v5.1h-2.5zM397.6 2495.2h2.5v7.6h-2.5zM400.1 2500.3h2.5v2.5h-2.5zM402.7 2500.3h2.5v5.1h-2.5zM405.2 2502.8h28.0v2.5h-28.0zM433.3 2492.6h2.5v12.7h-2.5zM435.8 2436.6h2.5v58.6h-2.5zM438.4 2428.9h2.5v15.3h-2.5zM440.9 2441.7h2.5v33.1h-2.5zM443.5 2472.2h2.5v20.4h-2.5zM446.0 2490.1h2.5v12.7h-2.5zM448.6 2500.3h2.5v5.1h-2.5zM451.1 2502.8h2.5v2.5h-2.5zM453.7 2502.8h2.5v5.1h-2.5zM456.2 2505.4h33.1v2.5h-33.1zM489.4 2502.8h2.5v5.1h-2.5zM491.9 2497.7h2.5v7.6h-2.5zM494.4 2495.2h2.5v5.1h-2.5zM497.0 2497.7h2.5v5.1h-2.5zM499.5 2500.3h2.5v5.1h-2.5zM502.1 2502.8h2.5v5.1h-2.5zM504.6 2505.4h5.1v2.5h-5.1zM509.7 2505.4h2.5v5.1h-2.5zM512.3 2507.9h20.4v2.5h-20.4zM532.7 2505.4h2.5v5.1h-2.5zM535.2 2505.4h2.5v2.5h-2.5zM537.8 2502.8h2.5v5.1h-2.5zM540.3 2500.3h2.5v5.1h-2.5zM542.9 2490.1h2.5v12.7h-2.5zM545.4 2474.8h2.5v17.8h-2.5zM548.0 2472.2h2.5v5.1h-2.5zM550.5 2474.8h2.5v15.3h-2.5zM553.1 2487.5h2.5v10.2h-2.5zM555.6 2495.2h2.5v7.6h-2.5zM558.2 2500.3h2.5v5.1h-2.5zM560.7 2502.8h2.5v5.1h-2.5zM563.3 2505.4h7.6v2.5h-7.6zM570.9 2505.4h2.5v5.1h-2.5zM573.5 2507.9h25.5v2.5h-25.5zM598.9 2505.4h2.5v5.1h-2.5zM601.5 2505.4h2.5v2.5h-2.5zM604.0 2502.8h2.5v5.1h-2.5zM606.6 2500.3h2.5v5.1h-2.5zM609.1 2500.3h5.1v2.5h-5.1zM614.2 2500.3h2.5v5.1h-2.5zM616.8 2502.8h2.5v5.1h-2.5zM619.3 2505.4h2.5v2.5h-2.5zM621.9 2505.4h2.5v5.1h-2.5zM624.4 2507.9h38.2v2.5h-38.2zM662.7 2505.4h2.5v5.1h-2.5zM665.2 2505.4h10.2v2.5h-10.2zM675.4 2505.4h2.5v5.1h-2.5zM678.0 2507.9h17.8v2.5h-17.8zM695.8 2505.4h2.5v5.1h-2.5zM698.3 2497.7h2.5v10.2h-2.5zM700.9 2454.4h2.5v45.9h-2.5zM703.4 2319.3h2.5v137.6h-2.5zM706.0 2026.2h2.5v295.6h-2.5zM708.5 1654.1h2.5v374.7h-2.5zM711.1 1654.1h5.1v2.5h-5.1zM716.2 1654.1h2.5v91.8h-2.5zM718.7 1743.3h2.5v356.8h-2.5zM721.3 2097.6h2.5v242.1h-2.5zM723.8 2337.2h2.5v117.2h-2.5zM726.4 2451.8h2.5v40.8h-2.5zM728.9 2490.1h2.5v12.7h-2.5zM731.5 2500.3h2.5v5.1h-2.5zM734.0 2502.8h2.5v5.1h-2.5zM736.6 2505.4h12.7v2.5h-12.7zM749.3 2505.4h2.5v5.1h-2.5zM751.9 2507.9h81.6v2.5h-81.6zM833.4 2507.9h2.5v5.1h-2.5zM836.0 2510.5h63.7v2.5h-63.7zM899.7 2510.5h2.5v5.1h-2.5zM902.2 2513.0h48.4v2.5h-48.4zM950.7 2513.0h2.5v5.1h-2.5zM953.2 2515.6h71.4v2.5h-71.4zM1024.6 2515.6h2.5v5.1h-2.5zM1027.1 2518.1h76.5v2.5h-76.5zM1103.6 2515.6h2.5v5.1h-2.5zM1106.1 2515.6h12.7v2.5h-12.7zM1118.9 2513.0h2.5v5.1h-2.5zM1121.4 2513.0h168.2v2.5h-168.2zM1289.6 2510.5h2.5v5.1h-2.5zM1292.2 2510.5h5.1v2.5h-5.1zM1297.3 2510.5h2.5v5.1h-2.5zM1299.8 2513.0h101.9v2.5h-101.9zM1401.8 2510.5h2.5v5.1h-2.5zM1404.3 2510.5h119.8v2.5h-119.8zM1524.1 2510.5h2.5v5.1h-2.5zM1526.7 2513.0h209.0v2.5h-209.0zM1735.7 2513.0h2.5v5.1h-2.5zM1738.2 2515.6h107.0v2.5h-107.0z" fill="#141414"/>
</g>
</svg>
</body></html>
